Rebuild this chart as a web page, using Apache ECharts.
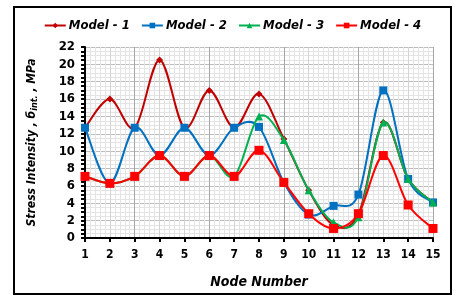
<!DOCTYPE html>
<html>
<head>
<meta charset="utf-8">
<script src="https://cdn.jsdelivr.net/npm/echarts@6/dist/echarts.min.js"></script>
<style>
html,body{margin:0;padding:0;background:#fff;}
#c{width:465px;height:304px;}
</style>
</head>
<body>
<div id="c"></div>
<script>
const nodes = [1,2,3,4,5,6,7,8,9,10,11,12,13,14,15];
const nodeLabels = ['1','2','3','4','5','6','7','8','9','10','11','12','13','14','15'];
const model1 = [12.7,16.0,12.7,20.5,12.7,17.0,12.7,16.6,11.4,5.5,1.5,2.7,13.3,6.8,4.1];
const model2 = [12.7,6.3,12.7,9.5,12.7,9.5,12.7,12.8,6.4,2.7,3.7,5.0,17.0,6.8,4.1];
const model3 = [7.1,6.3,7.1,9.5,7.1,9.5,7.1,14.0,11.3,5.5,1.8,2.4,13.3,6.8,4.1];
const model4 = [7.1,6.3,7.1,9.5,7.1,9.5,7.1,10.1,6.4,2.8,1.1,2.8,9.5,3.8,1.1];
const seriesNames = ['Model - 1','Model - 2','Model - 3','Model - 4'];
const colors = ['#C00000','#0070C0','#00B050','#FF0000'];

const FONT = '"DejaVu Sans Condensed","DejaVu Sans",sans-serif';
const pair = arr => nodes.map((n,i)=>[n,arr[i]]);

const chart = echarts.init(document.getElementById('c'), null, {renderer:'canvas'});

// smooth curve (Excel-like Catmull-Rom) drawn through the axis scales
function curveSeries(arr, color, z){
  return {
    type:'custom', data: pair(arr), z, silent:true,
    encode:{x:0, y:1},
    renderItem:(params, api)=>{
      if (params.dataIndex !== 0) return null;
      const p = arr.map((v,i)=>api.coord([nodes[i], v]));
      const n = p.length, kids = [];
      for (let i=0;i<n-1;i++){
        const p0 = p[Math.max(i-1,0)], p1 = p[i], p2 = p[i+1], p3 = p[Math.min(i+2,n-1)];
        kids.push({type:'bezierCurve', shape:{
          x1:p1[0], y1:p1[1], x2:p2[0], y2:p2[1],
          cpx1:p1[0]+(p2[0]-p0[0])/6, cpy1:p1[1]+(p2[1]-p0[1])/6,
          cpx2:p2[0]-(p3[0]-p1[0])/6, cpy2:p2[1]-(p3[1]-p1[1])/6},
          style:{stroke:color, lineWidth:2, fill:null}});
      }
      return {type:'group', children:kids};
    }
  };
}
const markerSeries = (name, arr, color, symbol, size, z) => ({
  name, type:'line', data: pair(arr), z,
  symbol, symbolSize:size, showSymbol:true,
  lineStyle:{color, width:2, opacity:0}, itemStyle:{color}
});

chart.setOption({
  animation:false,
  graphic:[{type:'rect', shape:{x:14,y:7,width:437,height:287}, style:{fill:'none', stroke:'#000', lineWidth:2}, z:100}],
  legend:{
    top:14, left:'center', itemWidth:21, itemHeight:7, itemGap:11,
    lineStyle:{opacity:1, width:2},
    textStyle:{fontFamily:FONT, fontSize:13, fontWeight:'bold', fontStyle:'italic', color:'#000', padding:[0,0,0,-2]},
    data: seriesNames
  },
  grid:{left:85, right:32, top:47, bottom:66},
  xAxis:[{
    type:'value', min:1, max:15, interval:1,
    name:'Node Number', nameLocation:'middle', nameGap:37,
    nameTextStyle:{fontFamily:FONT, fontSize:14, fontWeight:'bold', fontStyle:'italic', color:'#000'},
    axisLine:{lineStyle:{color:'#000', width:2}},
    axisTick:{show:true, length:4, lineStyle:{color:'#000', width:2}},
    axisLabel:{fontFamily:FONT, fontSize:12, fontWeight:'bold', color:'#000', margin:11,
      formatter: v => nodeLabels[nodes.indexOf(v)] || ''},
    splitLine:{show:true, lineStyle:{color:'#d4d4d4', width:1}},
    minorTick:{show:false},
    minorSplitLine:{show:true, lineStyle:{color:'#e4e4e4', width:1}}
  },{
    type:'category', data:nodeLabels, boundaryGap:false, position:'bottom',
    axisLine:{show:false}, axisTick:{show:false}, axisLabel:{show:false},
    splitLine:{show:true, interval:(i)=>((i+1)%3===0), lineStyle:{color:'#a6a6a6', width:1}}
  }],
  yAxis:{
    type:'value', min:0, max:22, interval:2,
    name:'Stress Intensity , {s|б}{sub|int.} , MPa', nameLocation:'middle', nameGap:46, nameRotate:90,
    nameTextStyle:{fontFamily:FONT, fontSize:12, fontWeight:'bold', fontStyle:'italic', color:'#000',
      rich:{s:{fontFamily:FONT, fontSize:12, fontWeight:'bold', fontStyle:'italic'},
            sub:{fontFamily:FONT, fontSize:9, fontWeight:'bold', fontStyle:'italic', verticalAlign:'bottom', padding:[5,0,0,0]}}},
    axisLine:{show:true, lineStyle:{color:'#000', width:2}},
    axisTick:{show:true, length:4, lineStyle:{color:'#000', width:2}},
    minorTick:{show:true, splitNumber:4, length:4, lineStyle:{color:'#000', width:2}},
    axisLabel:{fontFamily:FONT, fontSize:13, fontWeight:'bold', color:'#000', margin:10},
    splitLine:{show:true, lineStyle:{color:'#bdbdbd', width:1}},
    minorSplitLine:{show:true, lineStyle:{color:'#e4e4e4', width:1}}
  },
  series:[
    curveSeries(model1, colors[0], 2),
    markerSeries(seriesNames[0], model1, colors[0], 'diamond', 7, 3),
    curveSeries(model2, colors[1], 4),
    markerSeries(seriesNames[1], model2, colors[1], 'rect', 8, 5),
    curveSeries(model3, colors[2], 6),
    markerSeries(seriesNames[2], model3, colors[2], 'triangle', 8, 7),
    curveSeries(model4, colors[3], 8),
    markerSeries(seriesNames[3], model4, colors[3], 'rect', 9, 9)
  ]
});
</script>
</body>
</html>
